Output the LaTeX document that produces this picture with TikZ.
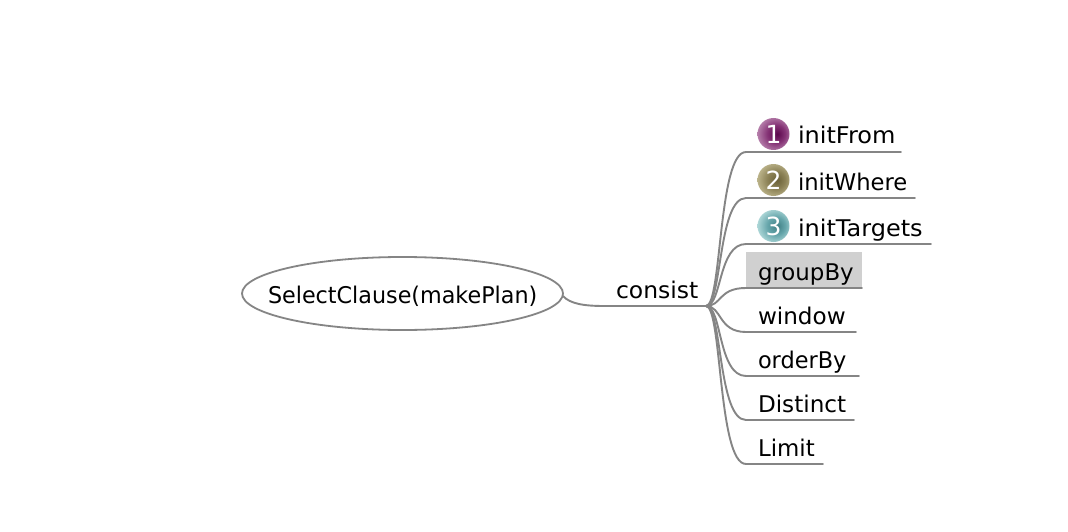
\documentclass[tikz,border=0pt]{standalone}
\usepackage{fontspec}
\setmainfont{DejaVu Sans}
\usetikzlibrary{shapes.geometric}
\definecolor{linegray}{HTML}{858585}
\definecolor{selgray}{HTML}{D0D0D0}
\pgfdeclareradialshading{ballone}{\pgfpoint{6bp}{0bp}}{
  rgb(0bp)=(0.36,0.03,0.30);
  rgb(14bp)=(0.52,0.20,0.46);
  rgb(30bp)=(0.74,0.54,0.70);
  rgb(42bp)=(0.58,0.30,0.53);
  rgb(50bp)=(0.45,0.18,0.40)}
\pgfdeclareradialshading{balltwo}{\pgfpoint{6bp}{0bp}}{
  rgb(0bp)=(0.42,0.38,0.22);
  rgb(14bp)=(0.55,0.51,0.34);
  rgb(30bp)=(0.76,0.73,0.57);
  rgb(42bp)=(0.63,0.59,0.41);
  rgb(50bp)=(0.50,0.46,0.30)}
\pgfdeclareradialshading{ballthree}{\pgfpoint{6bp}{0bp}}{
  rgb(0bp)=(0.25,0.50,0.52);
  rgb(14bp)=(0.40,0.65,0.67);
  rgb(30bp)=(0.72,0.87,0.87);
  rgb(42bp)=(0.48,0.72,0.73);
  rgb(50bp)=(0.35,0.60,0.62)}
\newcommand{\wtext}[2]{\scalebox{#1}[1]{#2}}
\tikzset{
  label/.style={anchor=base west,inner sep=0pt,outer sep=0pt,font=\fontsize{23}{25}\selectfont,text=black},
  branch/.style={draw=linegray,line width=1.9pt,line cap=round},
  icon/.style={circle,minimum size=32pt,inner sep=0pt,draw=none,font=\fontsize{25}{25}\selectfont,text=white},
}
\begin{document}
\begin{tikzpicture}[x=1pt,y=-1pt]
\useasboundingbox (0,0) rectangle (1068,532);
\fill[white] (0,0) rectangle (1068,532);
\fill[selgray] (746,252) rectangle (862,288);
\node[ellipse,draw=linegray,line width=1.8pt,minimum width=321pt,minimum height=73pt,inner sep=0pt] (root) at (402.5,293.5) {};
\node[label] (troot) at (268,303) {\wtext{0.968}{SelectClause(makePlan)}};
\node[label] (tcons) at (616,298) {\wtext{1.02}{consist}};
\node[label] (t1) at (798,144) {\wtext{1.043}{initFrom}};
\node[label] (t2) at (798,190) {\wtext{0.985}{initWhere}};
\node[label] (t3) at (798,236) {\wtext{1.043}{initTargets}};
\node[label] (t4) at (758,280) {\wtext{0.995}{groupBy}};
\node[label] (t5) at (758,324) {\wtext{1.005}{window}};
\node[label] (t6) at (758,368) {\wtext{0.975}{orderBy}};
\node[label] (t7) at (758,412) {\wtext{1.005}{Distinct}};
\node[label] (t8) at (758,456) {\wtext{0.995}{Limit}};
\node[icon,shading=ballone] (i1) at (773.5,134) {1};
\node[icon,shading=balltwo] (i2) at (773.5,180) {2};
\node[icon,shading=ballthree] (i3) at (773.5,226) {3};
\coordinate (rootout) at (563,296);
\coordinate (consstart) at (604,306);
\coordinate (hub) at (706,306);
\foreach \n/\y/\e in {1/152/901,2/198/915,3/244/931,4/288/862,5/332/856,6/376/859,7/420/854,8/464/823}{
  \coordinate (s\n) at (746,\y);
  \coordinate (e\n) at (\e,\y);
  \draw[branch] (hub) .. controls (722,306) and (718,\y) .. (s\n) -- (e\n);
}
\draw[branch] (rootout) .. controls (570,304) and (585,306) .. (consstart) -- (hub);
\end{tikzpicture}
\end{document}
